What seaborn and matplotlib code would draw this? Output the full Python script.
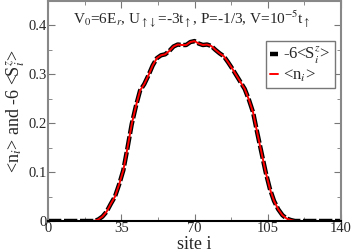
import numpy as np
import pandas as pd
import seaborn as sns
import matplotlib.pyplot as plt

# site index (every 2nd site) and density profile
site = list(range(0, 142, 2))
n_i = [0, 0, 0, 0, 0, 0, 0, 0, 0, 0, 0, 0,
       0.003, 0.009, 0.019, 0.035, 0.050, 0.075, 0.104, 0.150, 0.198, 0.235,
       0.267, 0.280, 0.298, 0.318, 0.333, 0.339, 0.341, 0.348, 0.357, 0.361,
       0.360, 0.360, 0.366, 0.368, 0.363, 0.360, 0.361, 0.358, 0.350, 0.343,
       0.337, 0.325, 0.312, 0.298, 0.284, 0.270, 0.248, 0.222, 0.180, 0.140,
       0.100, 0.066, 0.041, 0.024, 0.012, 0.005, 0.002,
       0, 0, 0, 0, 0, 0, 0, 0, 0, 0, 0, 0]
# -6 <S^z_i> lies on top of <n_i>
sz6 = list(n_i)

df = pd.DataFrame({"site": site, "n": n_i, "sz": sz6})

sns.set_style("ticks")
plt.rcParams['font.family'] = ['Liberation Serif', 'DejaVu Serif']
plt.rcParams['mathtext.fontset'] = 'stix'

fig = plt.figure(figsize=(3.54, 2.52), dpi=100)
ax = fig.add_axes([0.1356, 0.123, 0.8277, 0.873])

sns.lineplot(data=df, x="site", y="sz", ax=ax, color="black", lw=3.2,
             linestyle=(0, (3, 0.6)), label=r"-6<S$^z_i$>")
sns.lineplot(data=df, x="site", y="n", ax=ax, color="red", lw=1.4,
             label=r"<n$_i$>")

ax.set_xlim(0, 140)
ax.set_ylim(0, 0.45)
ax.set_xticks([0, 35, 70, 105, 140])
ax.set_xticks([17.5, 52.5, 87.5, 122.5], minor=True)
ax.set_yticks([0, 0.1, 0.2, 0.3, 0.4])
ax.set_yticks([0.05, 0.15, 0.25, 0.35], minor=True)
ax.set_yticklabels(["0", "0.1", "0.2", "0.3", "0.4"])
ax.tick_params(which="both", direction="in", top=True, right=True,
               labelsize=10.5, color="#777777", pad=1)
ax.tick_params(which="major", length=5)
ax.tick_params(which="minor", length=3)
for s in ["top", "right", "left"]:
    ax.spines[s].set_color("#888888")
    ax.spines[s].set_linewidth(1.5)
ax.spines["bottom"].set_color("black")
ax.spines["bottom"].set_linewidth(1.5)

ax.set_xlabel("site i", fontsize=13, labelpad=0.5)
ax.set_ylabel(r"<n$_i$> and -6 <S$^z_i$>", fontsize=13, labelpad=1)

ax.text(0.084, 0.895,
        r"V$_0$=6E$_r$, U$_{\uparrow\downarrow}$=-3t$_\uparrow$, P=-1/3, V=10$^{-5}$t$_\uparrow$",
        transform=ax.transAxes, fontsize=11, va="baseline")

leg = ax.legend(loc="upper right", bbox_to_anchor=(0.978, 0.82), fontsize=12,
                handlelength=0.5, handletextpad=0.3, borderpad=0.25,
                labelspacing=0.1, borderaxespad=0, fancybox=False,
                framealpha=1)
leg.get_frame().set_edgecolor("#777777")
leg.get_frame().set_linewidth(1)

fig.savefig("out.png", dpi=100)
